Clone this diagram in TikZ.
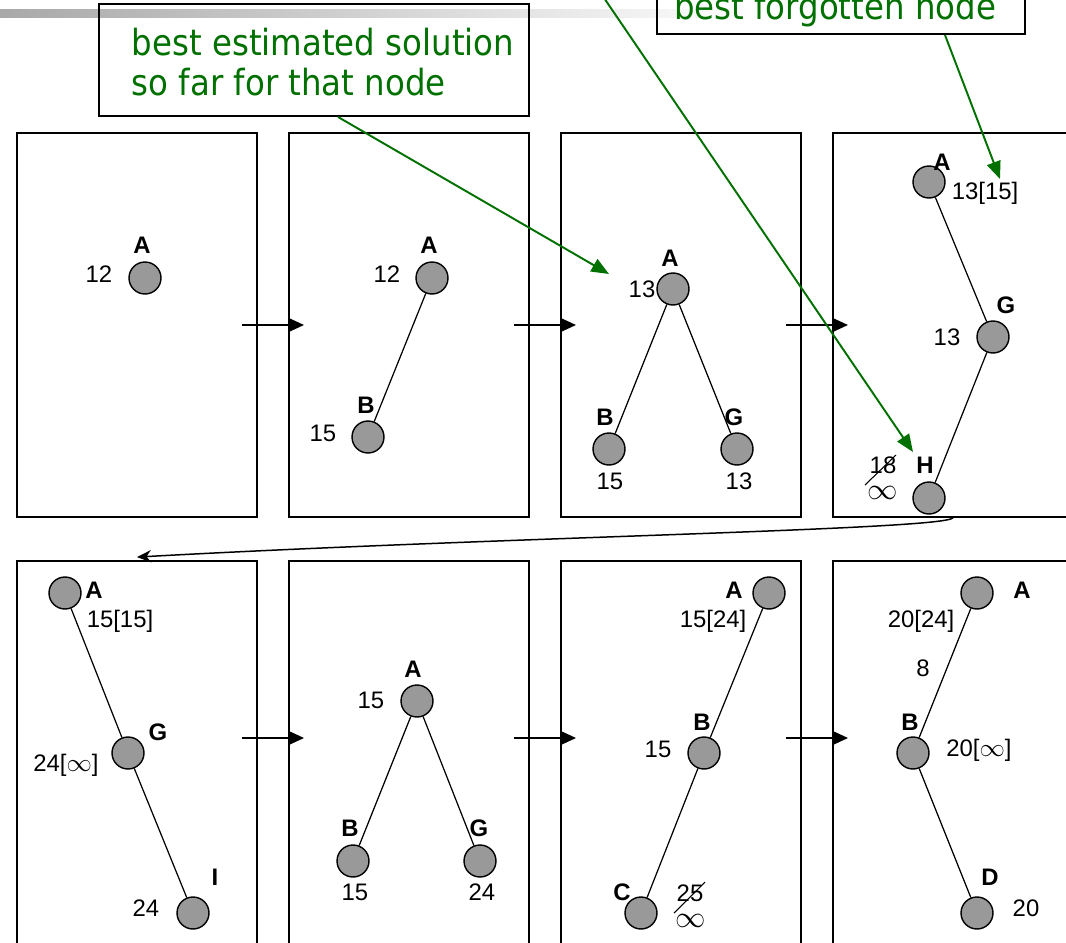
\documentclass[tikz,border=0pt]{standalone}
\usepackage{fontspec}
\setmainfont{Liberation Sans}
\newfontfamily\tahoma[FakeStretch=0.9]{DejaVu Sans}
\usepackage{tikz}
\usetikzlibrary{arrows.meta}
\definecolor{callgreen}{RGB}{0,112,0}

\begin{document}
\begin{tikzpicture}[x=0.02cm, y=-0.02cm,
  panel/.style={draw, line width=1.1pt, minimum width=4.8cm, minimum height=7.68cm, inner sep=0},
  callout/.style={draw, line width=1.1pt, inner sep=0},
  calltext/.style={text=callgreen, font=\tahoma\fontsize{20.5}{22.7}\selectfont, align=left, inner sep=0},
  vtx/.style={circle, draw, fill=black!40, line width=0.8pt, minimum size=0.64cm, inner sep=0},
  tag/.style={font=\bfseries\fontsize{13.6}{16}\selectfont, inner sep=0},
  val/.style={font=\fontsize{13.6}{16}\selectfont, inner sep=0},
  edge/.style={line width=0.7pt},
  flow/.style={line width=1.1pt, -{Triangle[length=9pt, width=8pt]}},
  hint/.style={draw=callgreen, line width=1.1pt, -{Triangle[length=10pt, width=8pt]}}]
\useasboundingbox (0,0) rectangle (1066,943);
\clip (0,0) rectangle (1066,943);

\shade [left color=black!34, right color=white] (0,9) rectangle (760,17);

\node [callout, minimum width=8.6cm, minimum height=2.24cm] (callbox1) at (314,60) {};
\node [calltext] (calltext1) at (323,62) {best estimated solution\\so far for that node};
\node [callout, minimum width=7.36cm, minimum height=2cm, anchor=south] (callbox2) at (841,35) {};
\node [calltext, anchor=base] (calltext2) at (835,19) {best forgotten node};

\node [panel] (p1) at (137,325) {};
\node [panel] (p2) at (409,325) {};
\node [panel] (p3) at (681,325) {};
\node [panel] (p4) at (953,325) {};
\node [panel] (p5) at (137,753) {};
\node [panel] (p6) at (409,753) {};
\node [panel] (p7) at (681,753) {};
\node [panel] (p8) at (953,753) {};

\draw [flow] ([xshift=-0.32cm]p1.east) -- ([xshift=0.32cm]p2.west);
\draw [flow] ([xshift=-0.32cm]p2.east) -- ([xshift=0.32cm]p3.west);
\draw [flow] ([xshift=-0.32cm]p3.east) -- ([xshift=0.32cm]p4.west);
\draw [flow] ([xshift=-0.32cm, yshift=0.3cm]p5.east) -- ([xshift=0.32cm, yshift=0.3cm]p6.west);
\draw [flow] ([xshift=-0.32cm, yshift=0.3cm]p6.east) -- ([xshift=0.32cm, yshift=0.3cm]p7.west);
\draw [flow] ([xshift=-0.32cm, yshift=0.3cm]p7.east) -- ([xshift=0.32cm, yshift=0.3cm]p8.west);
\draw [line width=0.85pt, -{Stealth[length=8pt, width=7pt]}] (p4.south) .. controls (940,530) and (500,537) .. ([yshift=0.06cm]p5.north);

\node [vtx] (v1a) at (145,278) {};
\node [tag] (t1a) at (142,245) {A};
\node [val] (n1a) at (99,274) {12};

\node [vtx] (v2a) at (432,278) {};
\node [vtx] (v2b) at (368,437) {};
\draw [edge] (v2a) -- (v2b);
\node [tag] (t2a) at (429,245) {A};
\node [val] (n2a) at (387,274) {12};
\node [tag] (t2b) at (366,405) {B};
\node [val] (n2b) at (323,433) {15};

\node [vtx] (v3a) at (673,289) {};
\node [vtx] (v3b) at (609,449) {};
\node [vtx] (v3g) at (737,449) {};
\draw [edge] (v3a) -- (v3b);
\draw [edge] (v3a) -- (v3g);
\node [tag] (t3a) at (670,258) {A};
\node [val] (n3a) at (642,289) {13};
\node [tag] (t3b) at (605,417) {B};
\node [val] (n3b) at (610,481) {15};
\node [tag] (t3g) at (734,417) {G};
\node [val] (n3g) at (739,481) {13};

\node [vtx] (v4a) at (929,182) {};
\node [vtx] (v4g) at (993,337) {};
\node [vtx] (v4h) at (929,498) {};
\draw [edge] (v4a) -- (v4g);
\draw [edge] (v4g) -- (v4h);
\node [tag] (t4a) at (942,162) {A};
\node [val] (n4a) at (985,193) {13[15]};
\node [tag] (t4g) at (1006,305) {G};
\node [val] (n4g) at (947,337) {13};
\node [tag] (t4h) at (925,465) {H};
\node [val] (n4h) at (883,465) {18};
\node [val, font=\fontsize{16}{18}\selectfont] (n4i) at (883,493) {$\infty$};
\draw [line width=0.6pt] ([shift={(-18,20)}]n4h.center) -- ([shift={(13,-10)}]n4h.center);

\node [vtx] (v5a) at (65,593) {};
\node [vtx] (v5g) at (128,753) {};
\node [vtx] (v5i) at (193,913) {};
\draw [edge] (v5a) -- (v5g);
\draw [edge] (v5g) -- (v5i);
\node [tag] (t5a) at (94,590) {A};
\node [val] (n5a) at (120,621) {15[15]};
\node [tag] (t5g) at (158,732) {G};
\node [val] (n5g) at (66,765) {24[$\infty$]};
\node [tag] (t5i) at (215,877) {I};
\node [val] (n5i) at (146,908) {24};

\node [vtx] (v6a) at (417,701) {};
\node [vtx] (v6b) at (353,861) {};
\node [vtx] (v6g) at (480,861) {};
\draw [edge] (v6a) -- (v6b);
\draw [edge] (v6a) -- (v6g);
\node [tag] (t6a) at (413,669) {A};
\node [val] (n6a) at (371,700) {15};
\node [tag] (t6b) at (350,828) {B};
\node [val] (n6b) at (355,892) {15};
\node [tag] (t6g) at (479,828) {G};
\node [val] (n6g) at (482,892) {24};

\node [vtx] (v7a) at (769,593) {};
\node [vtx] (v7b) at (704,753) {};
\node [vtx] (v7c) at (641,913) {};
\draw [edge] (v7a) -- (v7b);
\draw [edge] (v7b) -- (v7c);
\node [tag] (t7a) at (734,590) {A};
\node [val] (n7a) at (713,621) {15[24]};
\node [tag] (t7b) at (702,722) {B};
\node [val] (n7b) at (658,749) {15};
\node [tag] (t7c) at (622,892) {C};
\node [val] (n7c) at (690,893) {25};
\node [val, font=\fontsize{16}{18}\selectfont] (n7d) at (691,921) {$\infty$};
\draw [line width=0.6pt] ([shift={(-16,20)}]n7c.center) -- ([shift={(15,-11)}]n7c.center);

\node [vtx] (v8a) at (977,593) {};
\node [vtx] (v8b) at (913,753) {};
\node [vtx] (v8d) at (977,913) {};
\draw [edge] (v8a) -- (v8b);
\draw [edge] (v8b) -- (v8d);
\node [tag] (t8a) at (1022,590) {A};
\node [val] (n8a) at (921,621) {20[24]};
\node [val] (n8e) at (923,668) {8};
\node [tag] (t8b) at (910,722) {B};
\node [val] (n8b) at (979,750) {20[$\infty$]};
\node [tag] (t8d) at (990,877) {D};
\node [val] (n8d) at (1026,908) {20};

\coordinate (offtop) at (585,-30);
\coordinate (aim1) at (609,274);
\coordinate (aim2) at (913,452);
\coordinate (aim3) at (1000,179);
\draw [hint] ([xshift=0.48cm]callbox1.south) -- (aim1);
\draw [hint] (offtop) -- (aim2);
\draw [hint] ([xshift=2.08cm]callbox2.south) -- (aim3);
\end{tikzpicture}
\end{document}
